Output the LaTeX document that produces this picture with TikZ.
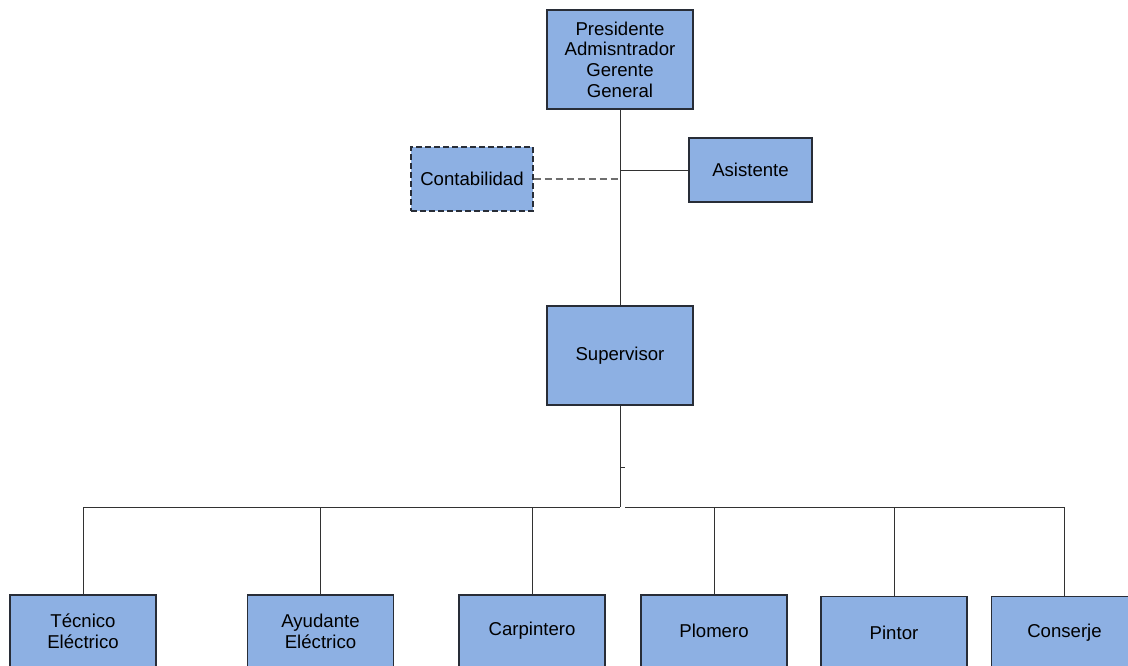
\documentclass[tikz,border=0pt]{standalone}
\usepackage{fontspec}
\setmainfont{Liberation Sans}
\definecolor{boxfill}{RGB}{141,176,227}
\definecolor{boxline}{RGB}{40,45,55}
\definecolor{conn}{RGB}{50,50,50}
\definecolor{dconn}{RGB}{110,110,110}
\begin{document}
\begin{tikzpicture}[x=1pt,y=-1pt,
  orgbox/.style={draw=boxline,fill=boxfill,line width=1.1pt,align=center,
    inner sep=0pt,font=\fontsize{18.6}{20.7}\selectfont},
  bigbox/.style={orgbox,minimum width=146pt,minimum height=99pt},
  smallbox/.style={orgbox,minimum width=123pt,minimum height=64pt},
  leafbox/.style={orgbox,minimum width=146pt,minimum height=72pt},
  link/.style={draw=conn,line width=0.9pt},
  dlink/.style={draw=dconn,line width=1.4pt,dash pattern=on 7pt off 4pt}]
\useasboundingbox (0,0) rectangle (1128,665);
\node[bigbox] (pres) at (620,59.5) {Presidente\\Admisntrador\\Gerente\\General};
\node[smallbox] (asis) at (750.5,170) {Asistente};
\node[smallbox,dash pattern=on 6pt off 3pt,minimum width=122pt] (cont) at (472,179) {Contabilidad};
\node[bigbox] (sup) at (620,355.5) {Supervisor};
\node[leafbox] (tec) at (83,631) {Técnico\\Eléctrico};
\node[leafbox] (ayu) at (320.5,631) {Ayudante\\Eléctrico};
\node[leafbox] (car) at (532,631) {Carpintero};
\node[leafbox] (plo) at (714,631) {Plomero};
\node[leafbox] (pin) at (894,632.5) {Pintor};
\node[leafbox] (con) at (1064.5,632.5) {Conserje};
\coordinate (ja) at (620,170);
\coordinate (jc) at (620,179);
\coordinate (tick) at (620,467);
\coordinate (bus) at (620,507);
% top to supervisor
\draw[link] (pres.south) -- (sup.north);
\draw[link] (ja) -- (asis.west);
\draw[dlink] (cont.east) -- (jc);
% supervisor to bus
\draw[link] (sup.south) -- (bus);
\draw[link] (tick) -- ++(5,0);
\draw[link] (tec.north) |- (bus);
\draw[link] (ayu.north) -- (ayu.north |- bus);
\draw[link] (car.north) -- (car.north |- bus);
\draw[link] (con.north) |- ([xshift=5pt]bus);
\draw[link] (plo.north) -- (plo.north |- bus);
\draw[link] (pin.north) -- (pin.north |- bus);
\end{tikzpicture}
\end{document}
